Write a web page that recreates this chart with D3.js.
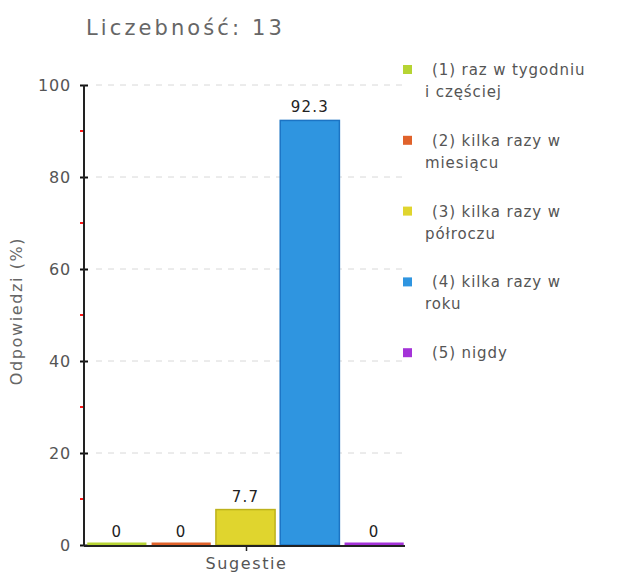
<!DOCTYPE html>
<html>
<head>
<meta charset="utf-8">
<script src="https://cdn.jsdelivr.net/npm/d3@7"></script>
<style>
  body { margin: 0; background: #fff; }
  svg { display: block; font-family: "DejaVu Sans", Verdana, sans-serif; }
</style>
</head>
<body>
<svg id="chart" width="619" height="574"></svg>
<script>
// Survey answers for one item, in percent of respondents
const titleText = "Liczebność: 13";
const category = "Sugestie";
const seriesNames = [
  ["(1) raz w tygodniu", "i częściej"],
  ["(2) kilka razy w", "miesiącu"],
  ["(3) kilka razy w", "półroczu"],
  ["(4) kilka razy w", "roku"],
  ["(5) nigdy"]
];
const seriesValues = [0, 0, 7.7, 92.3, 0];
const seriesColors = ["#b6d433", "#e0622b", "#e0d52e", "#2f95e0", "#a433d8"];
const seriesStrokes = ["#9ab51f", "#c24a18", "#bdb21c", "#1c74c4", "#6a1a96"];
const yTicks = [0, 20, 40, 60, 80, 100];
const yMinorTicks = [10, 30, 50, 70, 90];

const svg = d3.select("#chart");
const plot = { left: 84, right: 405, top: 85, bottom: 545 };

const y = d3.scaleLinear().domain([0, 100]).range([plot.bottom, plot.top]);
const x = d3.scaleBand()
  .domain(d3.range(seriesValues.length))
  .range([plot.left + 2, plot.right])
  .paddingInner(0.08)
  .paddingOuter(0.02);

// Title
svg.append("text")
  .attr("x", 86).attr("y", 35)
  .attr("fill", "#666").attr("font-size", 21)
  .attr("letter-spacing", 3.1)
  .text(titleText);

// Dashed gridlines
svg.append("g").selectAll("line")
  .data(yTicks.filter(d => d > 0))
  .join("line")
  .attr("x1", plot.left + 12).attr("x2", plot.right)
  .attr("y1", d => y(d)).attr("y2", d => y(d))
  .attr("stroke", "#d8d8d8").attr("stroke-dasharray", "6,6");

// Y axis
const yAxis = svg.append("g")
  .attr("transform", `translate(${plot.left},0)`)
  .call(d3.axisLeft(y).tickValues(yTicks).tickSize(4).tickPadding(9));
yAxis.select(".domain").remove();
yAxis.selectAll(".tick line").attr("x1", -4).attr("x2", 4).attr("stroke", "#111").attr("stroke-width", 2);
yAxis.selectAll(".tick text")
  .attr("fill", "#555").attr("font-size", 16)
  .attr("letter-spacing", 0.8)
  .attr("font-family", "DejaVu Sans, sans-serif");

// Minor red ticks
svg.append("g").selectAll("line")
  .data(yMinorTicks)
  .join("line")
  .attr("x1", plot.left - 4).attr("x2", plot.left)
  .attr("y1", d => y(d)).attr("y2", d => y(d))
  .attr("stroke", "#ff1a1a").attr("stroke-width", 2);

svg.append("line")
  .attr("x1", plot.left).attr("x2", plot.left)
  .attr("y1", plot.top).attr("y2", plot.bottom + 1)
  .attr("stroke", "#222").attr("stroke-width", 2);

// Y axis title
svg.append("text")
  .attr("transform", `translate(22,${(plot.top + plot.bottom) / 2 - 4}) rotate(-90)`)
  .attr("text-anchor", "middle")
  .attr("fill", "#666").attr("font-size", 16)
  .attr("letter-spacing", 1.6)
  .text("Odpowiedzi (%)");

// Bars (empty answers shown as a thin coloured strip on the baseline)
const zeroH = 2.5;
svg.append("g").selectAll("rect")
  .data(seriesValues)
  .join("rect")
  .attr("x", (d, i) => x(i))
  .attr("width", x.bandwidth())
  .attr("y", d => d > 0 ? y(d) : y(0) - zeroH)
  .attr("height", d => d > 0 ? y(0) - y(d) : zeroH)
  .attr("fill", (d, i) => seriesColors[i])
  .attr("stroke", (d, i) => d > 0 ? seriesStrokes[i] : "none")
  .attr("stroke-width", 1.5);

// Value labels
svg.append("g").selectAll("text")
  .data(seriesValues)
  .join("text")
  .attr("x", (d, i) => x(i) + x.bandwidth() / 2)
  .attr("y", d => y(d) - 8)
  .attr("text-anchor", "middle")
  .attr("fill", "#222").attr("font-size", 15)
  .attr("letter-spacing", 1.2)
  .text(d => d3.format("~f")(d));

// X axis baseline and category tick
svg.append("line")
  .attr("x1", plot.left).attr("x2", plot.right)
  .attr("y1", plot.bottom + 1).attr("y2", plot.bottom + 1)
  .attr("stroke", "#222").attr("stroke-width", 2);
const cx = (plot.left + plot.right) / 2 + 2;
svg.append("line")
  .attr("x1", cx).attr("x2", cx)
  .attr("y1", plot.bottom + 1).attr("y2", plot.bottom + 6)
  .attr("stroke", "#222").attr("stroke-width", 1.5);
svg.append("text")
  .attr("x", cx).attr("y", plot.bottom + 24)
  .attr("text-anchor", "middle")
  .attr("fill", "#555").attr("font-size", 16)
  .attr("letter-spacing", 1.6)
  .text(category);

// Legend
const legend = svg.append("g").attr("transform", "translate(403,0)");
const item = legend.selectAll("g")
  .data(seriesNames)
  .join("g")
  .attr("transform", (d, i) => `translate(0,${70 + i * 70.8})`);
item.append("rect")
  .attr("x", 0).attr("y", -5).attr("width", 9).attr("height", 9)
  .attr("fill", (d, i) => seriesColors[i]);
item.append("text")
  .attr("fill", "#555").attr("font-size", 15)
  .attr("letter-spacing", 0.9)
  .selectAll("tspan")
  .data(d => d)
  .join("tspan")
  .attr("x", (d, j) => j === 0 ? 29 : 22)
  .attr("y", (d, j) => 5 + j * 22)
  .text(d => d);
</script>
</body>
</html>
